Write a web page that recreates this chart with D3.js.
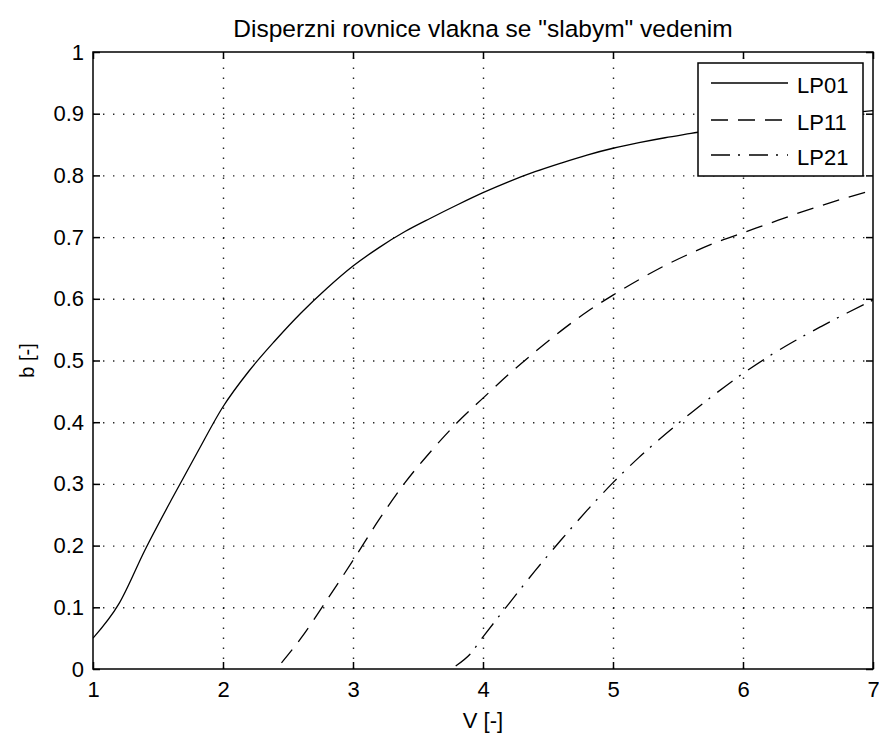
<!DOCTYPE html>
<html>
<head>
<meta charset="utf-8">
<script src="https://cdn.jsdelivr.net/npm/d3@7"></script>
<style>
  body { margin: 0; background: #fff; }
  svg { display: block; }
  text { font-family: "Liberation Sans", Arial, Helvetica, sans-serif; fill: #000; }
</style>
</head>
<body>
<svg id="chart" width="879" height="737"></svg>
<script>
// Normalised frequency V and normalised propagation constant b for each LP mode
const lp01V = [1.0, 1.2, 1.4, 1.6, 1.8, 2.0, 2.2, 2.4, 2.6, 2.8, 3.0, 3.2, 3.4, 3.6, 3.8, 4.0, 4.2, 4.4, 4.6, 4.8, 5.0, 5.2, 5.4, 5.6, 5.8, 6.0, 6.2, 6.4, 6.6, 6.8, 7.0];
const lp01B = [0.05, 0.106, 0.193, 0.273, 0.350, 0.425, 0.483, 0.532, 0.577, 0.617, 0.653, 0.683, 0.709, 0.731, 0.752, 0.772, 0.790, 0.806, 0.820, 0.833, 0.844, 0.853, 0.861, 0.868, 0.875, 0.881, 0.887, 0.892, 0.897, 0.901, 0.905];

const lp11V = [2.45, 2.6, 2.8, 3.0, 3.2, 3.4, 3.6, 3.8, 4.0, 4.2, 4.4, 4.6, 4.8, 5.0, 5.2, 5.4, 5.6, 5.8, 6.0, 6.2, 6.4, 6.6, 6.8, 7.0];
const lp11B = [0.01, 0.05, 0.112, 0.176, 0.242, 0.302, 0.353, 0.399, 0.439, 0.478, 0.514, 0.548, 0.579, 0.606, 0.631, 0.654, 0.674, 0.692, 0.707, 0.722, 0.737, 0.751, 0.764, 0.776];

const lp21V = [3.79, 3.9, 4.0, 4.2, 4.4, 4.6, 4.8, 5.0, 5.2, 5.4, 5.6, 5.8, 6.0, 6.2, 6.4, 6.6, 6.8, 7.0];
const lp21B = [0.005, 0.024, 0.052, 0.106, 0.159, 0.209, 0.257, 0.302, 0.343, 0.380, 0.415, 0.448, 0.479, 0.507, 0.532, 0.555, 0.577, 0.598];

const seriesNames = ["LP01", "LP11", "LP21"];
const seriesDash = [null, "17,10", "19,8,2,9"];

const xTicks = [1, 2, 3, 4, 5, 6, 7];
const xTickLabels = ["1", "2", "3", "4", "5", "6", "7"];
const yTicks = [0, 0.1, 0.2, 0.3, 0.4, 0.5, 0.6, 0.7, 0.8, 0.9, 1];
const yTickLabels = ["0", "0.1", "0.2", "0.3", "0.4", "0.5", "0.6", "0.7", "0.8", "0.9", "1"];

const titleText = "Disperzni rovnice vlakna se \"slabym\" vedenim";
const xLabelText = "V [-]";
const yLabelText = "b [-]";

const svg = d3.select("#chart");
const mLeft = 93, mRight = 873, mTop = 52, mBottom = 669;
const plotW = mRight - mLeft, plotH = mBottom - mTop;

const x = d3.scaleLinear().domain([1, 7]).range([mLeft, mRight]);
const y = d3.scaleLinear().domain([0, 1]).range([mBottom, mTop]);

// dotted grid
const gridX = svg.append("g").attr("transform", `translate(0,${mBottom})`)
  .call(d3.axisBottom(x).tickValues(xTicks.slice(1, -1)).tickSize(-plotH).tickFormat(""));
const gridY = svg.append("g").attr("transform", `translate(${mLeft},0)`)
  .call(d3.axisLeft(y).tickValues(yTicks.slice(1, -1)).tickSize(-plotW).tickFormat(""));
[gridX, gridY].forEach(g => {
  g.select(".domain").remove();
  g.selectAll("line")
    .attr("stroke", "#000")
    .attr("stroke-width", 1.4)
    .attr("stroke-dasharray", "1.4,8.6")
    .attr("opacity", 0.85);
});

// curves
const seriesData = [
  lp01V.map((v, i) => [v, lp01B[i]]),
  lp11V.map((v, i) => [v, lp11B[i]]),
  lp21V.map((v, i) => [v, lp21B[i]])
];
svg.append("clipPath").attr("id", "plotClip")
  .append("rect").attr("x", mLeft).attr("y", mTop).attr("width", plotW).attr("height", plotH);
const line = d3.line().x(d => x(d[0])).y(d => y(d[1])).curve(d3.curveMonotoneX);
svg.append("g").attr("clip-path", "url(#plotClip)")
  .selectAll("path").data(seriesData).join("path")
  .attr("d", line)
  .attr("fill", "none")
  .attr("stroke", "#000")
  .attr("stroke-width", 1.3)
  .attr("stroke-dasharray", (d, i) => seriesDash[i]);

// axes with inward ticks on all four sides
const tickLen = 7;
const axB = svg.append("g").attr("transform", `translate(0,${mBottom})`)
  .call(d3.axisBottom(x).tickValues(xTicks).tickFormat((d, i) => xTickLabels[i])
    .tickSizeInner(-tickLen).tickSizeOuter(0).tickPadding(12));
const axT = svg.append("g").attr("transform", `translate(0,${mTop})`)
  .call(d3.axisTop(x).tickValues(xTicks).tickFormat("").tickSizeInner(-tickLen).tickSizeOuter(0));
const axL = svg.append("g").attr("transform", `translate(${mLeft},0)`)
  .call(d3.axisLeft(y).tickValues(yTicks).tickFormat((d, i) => yTickLabels[i])
    .tickSizeInner(-tickLen).tickSizeOuter(0).tickPadding(9));
const axR = svg.append("g").attr("transform", `translate(${mRight},0)`)
  .call(d3.axisRight(y).tickValues(yTicks).tickFormat("").tickSizeInner(-tickLen).tickSizeOuter(0));
[axB, axT, axL, axR].forEach(g => {
  g.select(".domain").remove();
  g.selectAll("line").attr("stroke", "#000").attr("stroke-width", 1.5);
  g.selectAll("text").attr("font-size", 22).attr("font-family", null).attr("fill", "#000");
});

// plot box
svg.append("rect")
  .attr("x", mLeft).attr("y", mTop).attr("width", plotW).attr("height", plotH)
  .attr("fill", "none").attr("stroke", "#000").attr("stroke-width", 1.5);

// title and axis labels
svg.append("text").attr("x", (mLeft + mRight) / 2).attr("y", 37)
  .attr("text-anchor", "middle").attr("font-size", 24.5).text(titleText);
svg.append("text").attr("x", (mLeft + mRight) / 2).attr("y", 728)
  .attr("text-anchor", "middle").attr("font-size", 22).text(xLabelText);
svg.append("text").attr("transform", `translate(34,${(mTop + mBottom) / 2}) rotate(-90)`)
  .attr("text-anchor", "middle").attr("font-size", 20).text(yLabelText);

// legend
const legend = svg.append("g");
legend.append("rect")
  .attr("x", 698).attr("y", 63).attr("width", 165).attr("height", 113)
  .attr("fill", "#fff").attr("stroke", "#000").attr("stroke-width", 1.5);
const legendY = [83, 120, 155];
seriesNames.forEach((name, i) => {
  legend.append("line")
    .attr("x1", 711).attr("x2", 788).attr("y1", legendY[i]).attr("y2", legendY[i])
    .attr("stroke", "#000").attr("stroke-width", 1.3)
    .attr("stroke-dasharray", seriesDash[i]);
  legend.append("text")
    .attr("x", 797).attr("y", legendY[i] + 10)
    .attr("font-size", 22).text(name);
});
</script>
</body>
</html>
